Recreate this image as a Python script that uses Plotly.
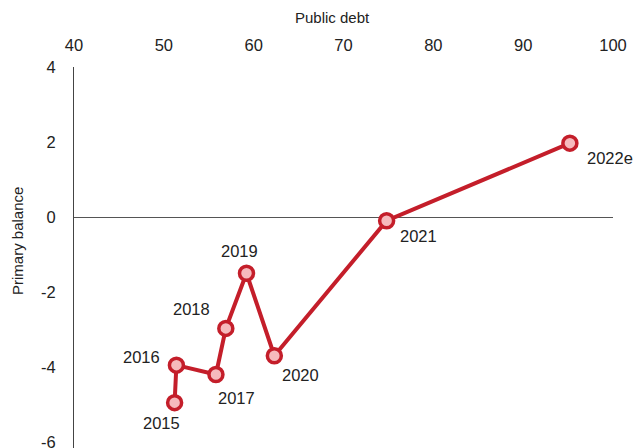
import plotly.graph_objects as go

# Daten: Staatsverschuldung vs. Primärsaldo
years = ["2015", "2016", "2017", "2018", "2019", "2020", "2021", "2022e"]
public_debt = [51.2, 51.4, 55.8, 56.9, 59.2, 62.3, 74.8, 95.2]
primary_balance = [-4.95, -3.95, -4.2, -2.97, -1.5, -3.7, -0.1, 1.97]

x_ticks = [40, 50, 60, 70, 80, 90, 100]
y_ticks = [-6, -4, -2, 0, 2, 4]
y_ticktext = ["-6", "-4", "-2", "0", "2", "4"]

# Label-Versatz in Pixeln (x nach rechts, y nach oben)
label_dx = [-13, -35, 21, -34, -7, 26, 32, 40]
label_dy = [-20, 8, -23, 19, 22, -19, -15, -15]

RED = "#C41E2A"
PINK = "#F6BABD"
FONT = "Liberation Sans, Arial, sans-serif"

fig = go.Figure()
fig.add_trace(go.Scatter(
    x=public_debt,
    y=primary_balance,
    mode="lines+markers",
    line=dict(color=RED, width=4),
    marker=dict(size=14, color=PINK, line=dict(color=RED, width=3.5)),
    hoverinfo="skip",
))

for yr, xv, yv, dx, dy in zip(years, public_debt, primary_balance, label_dx, label_dy):
    fig.add_annotation(
        x=xv, y=yv, text=yr, showarrow=False,
        xshift=dx, yshift=dy,
        font=dict(size=16.5, color="#222222", family=FONT),
    )

# Achsentitel als Annotationen (genauer platzierbar)
fig.add_annotation(
    x=0.479, y=1.129, xref="paper", yref="paper", text="Public debt",
    showarrow=False, xanchor="center", yanchor="middle",
    font=dict(size=15, color="#222222", family=FONT),
)
fig.add_annotation(
    x=-0.106, y=0.543, xref="paper", yref="paper", text="Primary balance",
    showarrow=False, xanchor="center", yanchor="middle", textangle=-90,
    font=dict(size=15, color="#222222", family=FONT),
)

fig.update_layout(
    width=637, height=448,
    margin=dict(l=74, r=24, t=67, b=0),
    paper_bgcolor="white", plot_bgcolor="white",
    showlegend=False,
    font=dict(family=FONT, color="#222222"),
    xaxis=dict(
        side="top", range=[40, 100], tickvals=x_ticks,
        showgrid=False, zeroline=False, showline=False, ticks="",
        tickfont=dict(size=16.5), ticklabelstandoff=12, automargin=False,
        ticklabeloverflow="allow",
    ),
    yaxis=dict(
        range=[-6.16, 4], tickvals=y_ticks, ticktext=y_ticktext,
        showgrid=False, showline=True, linecolor="#444444", linewidth=1,
        zeroline=True, zerolinecolor="#555555", zerolinewidth=1,
        ticks="", tickfont=dict(size=16.5), ticklabelstandoff=14, automargin=False,
        ticklabeloverflow="allow",
    ),
)

# Body-Rand entfernen, damit die Grafik genau ins Fenster passt
fig.write_html(
    "out.html",
    config={"displayModeBar": False},
    post_script="document.body.style.margin='0';document.body.style.overflow='hidden';",
)
